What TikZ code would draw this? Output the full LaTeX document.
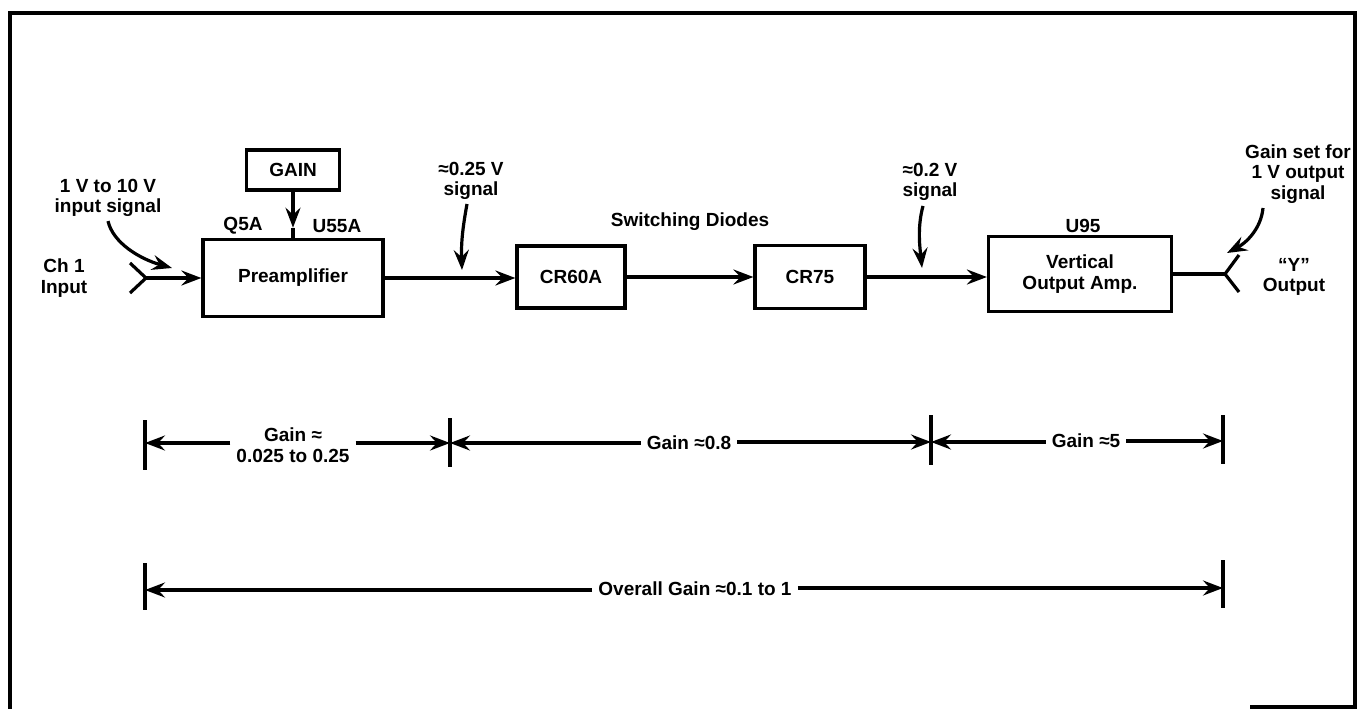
\documentclass[tikz,border=0pt]{standalone}
\usepackage{fontspec}
\setmainfont{Liberation Sans}
\usetikzlibrary{arrows.meta}
\begin{document}
\begin{tikzpicture}[x=1pt,y=-1pt,
  every node/.style={font=\bfseries\fontsize{19}{20.5}\selectfont, align=center, inner sep=1pt},
  blk/.style={draw, line width=3.2pt, inner sep=0pt},
  ln/.style={line width=3.2pt},
  arr/.style={line width=3.2pt, -{Stealth[length=20pt,width=15pt,inset=7pt]}},
  dimlbl/.style={inner sep=6pt},
  frame/.style={line width=4.5pt}
]
\useasboundingbox (0,0) rectangle (1358,709);
% frame
\draw[frame] (1250,707) -- (1355,707) -- (1355,13) -- (10,13) -- (10,709);

% blocks
\node[blk, minimum width=180pt, minimum height=77pt] (pre) at (293,278) {Preamplifier};
\node[blk, minimum width=93pt, minimum height=40pt] (gain) at (293,170) {GAIN};
\node[blk, minimum width=108pt, minimum height=62pt] (cr60) at (571,277) {CR60A};
\node[blk, minimum width=110pt, minimum height=63pt] (cr75) at (810,277) {CR75};
\node[blk, minimum width=183pt, minimum height=75pt] (voa) at (1080,274) {Vertical\\Output Amp.};

% labels
\node (q5a) at (243,226) {Q5A};
\node (u55a) at (337,226) {U55A};
\node (u95) at (1083,226) {U95};
\node (sw) at (690,222) {Switching Diodes};
\node (ch1) at (64,278) {Ch 1\\Input};
\node (yout) at (1294,277) {“Y”\\Output};
\node (insig) at (108,198) {1 V to 10 V\\input signal};
\node (s025) at (471,181) {≈0.25 V\\signal};
\node (s02) at (930,182) {≈0.2 V\\signal};
\node (gset) at (1298,174) {Gain set for\\1 V output\\signal};

% input connector
\coordinate (inA) at (130,263);
\coordinate (inT) at (146,278);
\coordinate (inB) at (130,293);
\draw[ln] (inA) -- (inT) -- (inB);
\draw[arr] (inT) -- (pre.west);

% gain to preamp
\path (gain.south) -- coordinate[pos=0.78] (gm) (pre.north);
\draw[arr] (gain.south) -- (gm);
\draw[ln] (gm) -- (pre.north);

% main chain
\draw[arr] (pre.east) -- (cr60.west |- pre.east);
\draw[arr] (cr60.east) -- (cr75.west);
\draw[arr] (cr75.east) -- (cr75.east -| voa.west);

% output connector
\coordinate (outT) at (1225,274);
\coordinate (outA) at (1239,255);
\coordinate (outB) at (1239,292);
\draw[ln] (voa.east) -- (outT);
\draw[ln] (outA) -- (outT) -- (outB);

% signal pointers
\coordinate (p1) at (172,268);
\draw[arr] (insig.south) ++(0,3) coordinate (p1s) .. controls (113,243) and (140,259) .. (p1);
\coordinate (p2) at (462,270);
\draw[arr] (467,204) .. controls (463,226) and (461,242) .. (p2);
\coordinate (p3) at (922,268);
\draw[arr] (923,206) .. controls (917,228) and (920,248) .. (p3);
\coordinate (p4) at (1227,253);
\draw[arr] (1263,208) .. controls (1261,229) and (1246,243) .. (p4);

% dimension row 1
\coordinate (t1a) at (145,420); \coordinate (t1b) at (145,470); \coordinate (t1m) at (145,443);
\coordinate (t2a) at (450,418); \coordinate (t2b) at (450,467); \coordinate (t2m) at (450,443);
\coordinate (t3a) at (931,415); \coordinate (t3b) at (931,465); \coordinate (t3m) at (931,442);
\coordinate (t4a) at (1223,415); \coordinate (t4b) at (1223,464); \coordinate (t4m) at (1223,441);
\draw[ln] (t1a) -- (t1b);
\draw[ln] (t2a) -- (t2b);
\draw[ln] (t3a) -- (t3b);
\draw[ln] (t4a) -- (t4b);
\node[dimlbl] (g1) at (293,445) {Gain ≈\\0.025 to 0.25};
\node[dimlbl] (g2) at (689,443) {Gain ≈0.8};
\node[dimlbl] (g3) at (1086,441) {Gain ≈5};
\draw[arr] (g1.west |- t1m) -- (t1m);
\draw[arr] (g1.east |- t2m) -- (t2m);
\draw[arr] (g2.west |- t2m) -- (t2m);
\draw[arr] (g2.east |- t3m) -- (t3m);
\draw[arr] (g3.west |- t3m) -- (t3m);
\draw[arr] (g3.east |- t4m) -- (t4m);

% dimension row 2
\coordinate (b1a) at (145,563); \coordinate (b1b) at (145,610); \coordinate (b1m) at (145,590);
\coordinate (b2a) at (1223,560); \coordinate (b2b) at (1223,608); \coordinate (b2m) at (1223,588);
\draw[ln] (b1a) -- (b1b);
\draw[ln] (b2a) -- (b2b);
\node[dimlbl] (ov) at (695,589) {Overall Gain ≈0.1 to 1};
\draw[arr] (ov.west |- b1m) -- (b1m);
\draw[arr] (ov.east |- b2m) -- (b2m);
\end{tikzpicture}
\end{document}
